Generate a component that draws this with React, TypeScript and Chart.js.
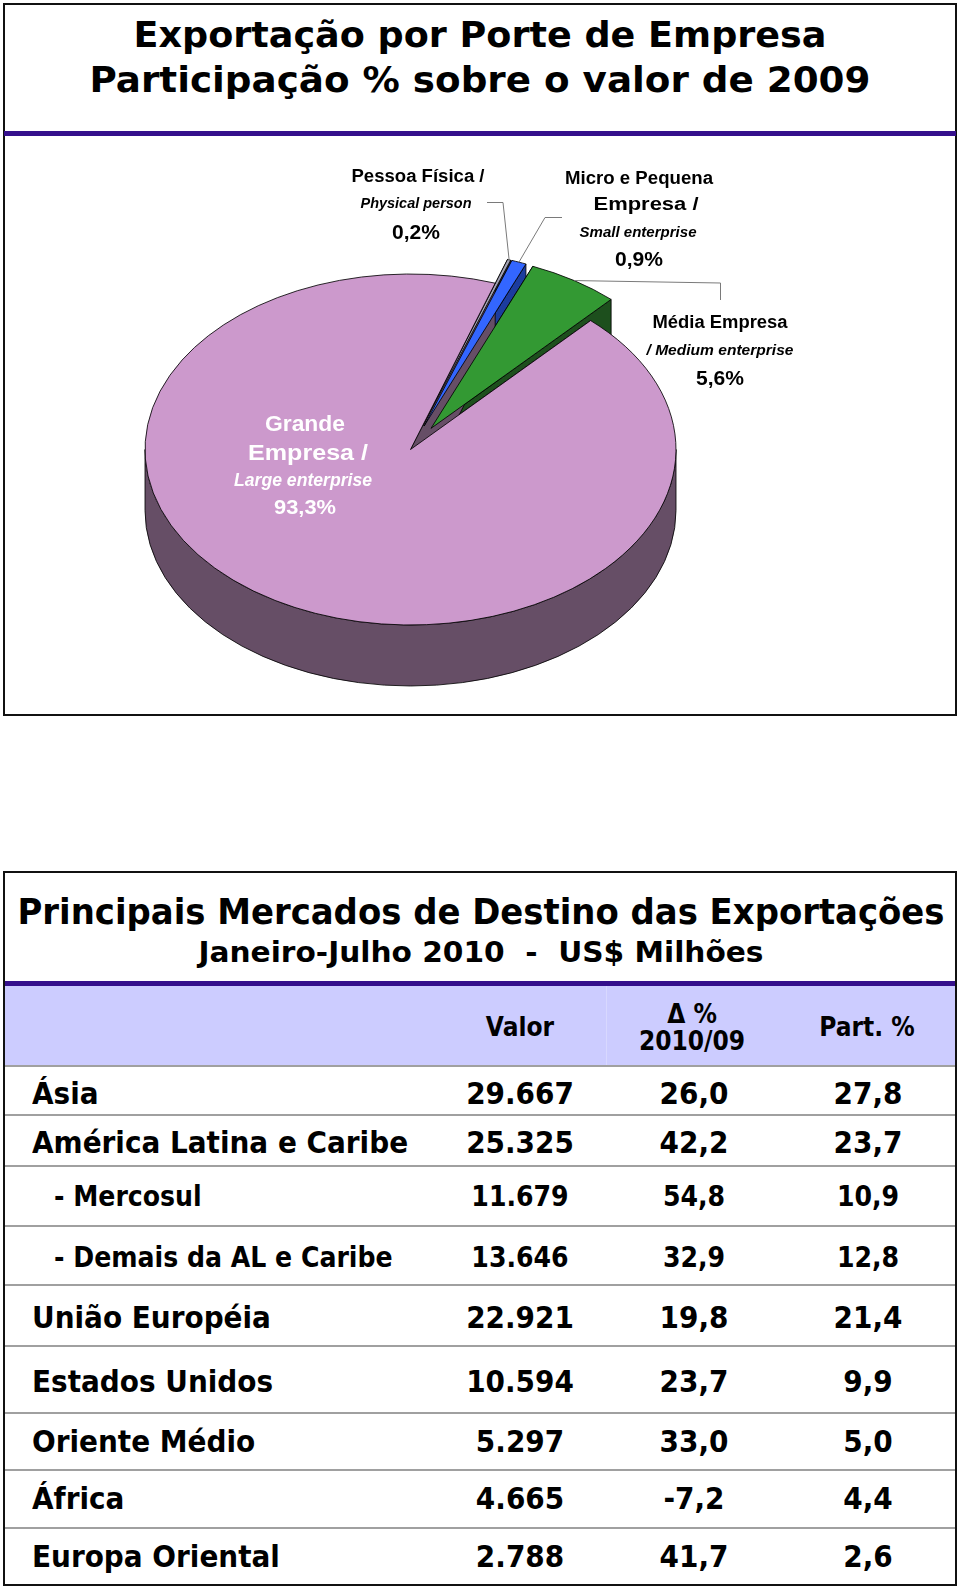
import React, { useEffect, useRef } from 'react';
import { Chart, registerables } from 'chart.js';

Chart.register(...registerables);

// ---------------- Pie data ----------------
const sliceNames = [
  'Pessoa Física / Physical person',
  'Micro e Pequena Empresa / Small enterprise',
  'Média Empresa / Medium enterprise',
  'Grande Empresa / Large enterprise',
];
const sliceShares = [0.2, 0.9, 5.6, 93.3];
const sliceColors = ['#A2A2B4', '#3366FF', '#339933', '#CC99CC'];
const sliceSideColors = ['#50505E', '#1C3C9E', '#1D4F1D', '#664E66'];
const sliceExplode = [38, 38, 38, 0];
const pieLabelLines = [
  ['Pessoa Física /', 'Physical person'],
  ['Micro e Pequena', 'Empresa /', 'Small enterprise'],
  ['Média Empresa', '/ Medium enterprise'],
  ['Grande', 'Empresa /', 'Large enterprise'],
];

// ---------------- Table data ----------------
const regions = [
  'Ásia',
  'América Latina e Caribe',
  '- Mercosul',
  '- Demais da AL e Caribe',
  'União Européia',
  'Estados Unidos',
  'Oriente Médio',
  'África',
  'Europa Oriental',
];
const regionIsSub = [false, false, true, true, false, false, false, false, false];
const exportValues = [29667, 25325, 11679, 13646, 22921, 10594, 5297, 4665, 2788];
const growthPct = [26.0, 42.2, 54.8, 32.9, 19.8, 23.7, 33.0, -7.2, 41.7];
const sharePct = [27.8, 23.7, 10.9, 12.8, 21.4, 9.9, 5.0, 4.4, 2.6];
const tableHeaders = ['Valor', 'Δ %', '2010/09', 'Part. %'];

// ---------------- helpers ----------------
const fmtThousands = (n: number) => String(n).replace(/\B(?=(\d{3})+(?!\d))/g, '.');
const fmtDec = (n: number) => n.toFixed(1).replace('.', ',');

const DV = "'DejaVu Sans', Verdana, sans-serif";
const LS = "'Liberation Sans', Arial, sans-serif";

let measureCtx: CanvasRenderingContext2D | null = null;
function fitScale(text: string, font: string, target: number) {
  if (!measureCtx) measureCtx = document.createElement('canvas').getContext('2d');
  if (!measureCtx) return 1;
  measureCtx.font = font;
  const w = measureCtx.measureText(text).width;
  return w > 0 ? target / w : 1;
}

type TxtProps = {
  text: string;
  x: number;
  base: number;
  size: number;
  family: string;
  bold?: boolean;
  italic?: boolean;
  align?: 'center' | 'left';
  width?: number;
  scale?: number;
  color?: string;
};

function Txt({ text, x, base, size, family, bold = true, italic = false, align = 'center', width, scale, color = '#000' }: TxtProps) {
  const font = `${italic ? 'italic ' : ''}${bold ? 'bold ' : ''}${size}px ${family}`;
  const s = width ? fitScale(text, font, width) : scale ?? 1;
  const top = base - 0.846 * size;
  const style: React.CSSProperties = {
    position: 'absolute',
    left: x,
    top,
    fontFamily: family,
    fontSize: size,
    fontWeight: bold ? 700 : 400,
    fontStyle: italic ? 'italic' : 'normal',
    lineHeight: `${size}px`,
    whiteSpace: 'pre',
    color,
    transformOrigin: align === 'center' ? '50% 50%' : '0 50%',
    transform: align === 'center' ? `translateX(-50%) scaleX(${s})` : `scaleX(${s})`,
  };
  return <div style={style}>{text}</div>;
}

// ---------------- 3D pie plugin ----------------
const K = 0.661; // vertical squash of the pie
const DEPTH = 61; // screen px thickness

const leaderPaths = [
  { slice: 0, pts: [[503, 202.5], [487, 202.5]] },
  { slice: 1, pts: [[545, 217.5], [562, 217.5]] },
  { slice: 2, pts: [[720.5, 283], [720.5, 300]] },
];

const pie3d = {
  id: 'pie3d',
  afterDatasetsUpdate(chart: any) {
    const arcs = chart.getDatasetMeta(0).data;
    arcs.forEach((arc: any, i: number) => {
      const e = sliceExplode[i];
      if (!e) return;
      const mid = (arc.startAngle + arc.endAngle) / 2;
      arc.x += Math.cos(mid) * e;
      arc.y += Math.sin(mid) * e;
    });
  },
  beforeDatasetsDraw(chart: any) {
    const ctx: CanvasRenderingContext2D = chart.ctx;
    const a = chart.chartArea;
    const cx = (a.left + a.right) / 2;
    const cy = (a.top + a.bottom) / 2;
    ctx.save();
    ctx.translate(cx, cy);
    ctx.scale(1, K);
    ctx.translate(-cx, -cy);
    const D = DEPTH / K;
    const arcs = chart.getDatasetMeta(0).data;
    ctx.lineWidth = 1;
    ctx.strokeStyle = '#000';
    ctx.lineJoin = 'round';
    // radial walls
    arcs.forEach((arc: any, i: number) => {
      const { x, y, startAngle, endAngle, outerRadius: R } = arc;
      [startAngle, endAngle].forEach((ang: number) => {
        const ox = x + Math.cos(ang) * R;
        const oy = y + Math.sin(ang) * R;
        ctx.beginPath();
        ctx.moveTo(x, y);
        ctx.lineTo(ox, oy);
        ctx.lineTo(ox, oy + D);
        ctx.lineTo(x, y + D);
        ctx.closePath();
        ctx.fillStyle = sliceSideColors[i];
        ctx.fill();
        ctx.stroke();
      });
    });
    // curved front walls
    arcs.forEach((arc: any, i: number) => {
      const { x, y, startAngle, endAngle, outerRadius: R } = arc;
      for (let n = -2; n <= 2; n++) {
        const lo = Math.max(startAngle, 2 * Math.PI * n);
        const hi = Math.min(endAngle, 2 * Math.PI * n + Math.PI);
        if (hi > lo) {
          ctx.beginPath();
          ctx.arc(x, y, R, lo, hi, false);
          ctx.lineTo(x + Math.cos(hi) * R, y + Math.sin(hi) * R + D);
          ctx.arc(x, y + D, R, hi, lo, true);
          ctx.closePath();
          ctx.fillStyle = sliceSideColors[i];
          ctx.fill();
          ctx.stroke();
        }
      }
    });
  },
  afterDatasetsDraw(chart: any) {
    chart.ctx.restore();
  },
  afterDraw(chart: any) {
    const ctx: CanvasRenderingContext2D = chart.ctx;
    const a = chart.chartArea;
    const cy = (a.top + a.bottom) / 2;
    const arcs = chart.getDatasetMeta(0).data;
    ctx.save();
    ctx.strokeStyle = '#7A7A7A';
    ctx.lineWidth = 1;
    leaderPaths.forEach(({ slice, pts }) => {
      const arc = arcs[slice];
      const mid = (arc.startAngle + arc.endAngle) / 2;
      const ax = arc.x + Math.cos(mid) * arc.outerRadius;
      const ayc = arc.y + Math.sin(mid) * arc.outerRadius;
      const ay = cy + (ayc - cy) * K;
      ctx.beginPath();
      ctx.moveTo(ax, ay);
      pts.forEach((p) => ctx.lineTo(p[0], p[1]));
      ctx.stroke();
    });
    ctx.restore();
  },
};

function PieChart() {
  const ref = useRef<HTMLCanvasElement | null>(null);
  useEffect(() => {
    if (!ref.current) return;
    const chart = new Chart(ref.current, {
      type: 'pie',
      data: {
        labels: sliceNames,
        datasets: [
          {
            data: sliceShares,
            backgroundColor: sliceColors,
            borderColor: '#000',
            borderWidth: 1,
            radius: 265.5,
            rotation: 18.6,
            clip: false,
          } as any,
        ],
      },
      options: {
        responsive: false,
        animation: false,
        events: [],
        layout: { padding: { left: 0, right: 139, top: 179, bottom: 0 } },
        plugins: { legend: { display: false }, tooltip: { enabled: false } },
      },
      plugins: [pie3d as any],
    });
    return () => chart.destroy();
  }, []);
  return (
    <canvas
      ref={ref}
      width={960}
      height={720}
      style={{ position: 'absolute', left: 0, top: 0, width: 960, height: 720 }}
    />
  );
}

// ---------------- layout constants ----------------
const rowLines = [1066, 1115, 1166, 1226, 1285, 1346, 1413, 1470, 1528];
const rowCenters = [1093, 1142, 1196, 1257, 1317, 1381, 1441, 1498, 1556];
const COL_VALOR = 520;
const COL_DELTA = 694;
const COL_PART = 868;
const TSCALE = 0.9;

export default function App() {
  const pct = sliceShares.map((v) => fmtDec(v) + '%');
  return (
    <div style={{ position: 'absolute', left: 0, top: 0, width: 960, height: 1589, background: '#fff', overflow: 'hidden' }}>
      {/* top box */}
      <div style={{ position: 'absolute', left: 3, top: 3, width: 954, height: 713, border: '2px solid #111', boxSizing: 'border-box' }} />
      <div style={{ position: 'absolute', left: 4, top: 131, width: 952, height: 5, background: '#35108C' }} />
      <Txt text="Exportação por Porte de Empresa" x={480} base={47} size={36} family={DV} width={693} />
      <Txt text="Participação % sobre o valor de 2009" x={480} base={92} size={36} family={DV} width={781} />

      <PieChart />

      {/* pie labels */}
      <Txt text={pieLabelLines[0][0]} x={417.5} base={182} size={18} family={LS} width={133} />
      <Txt text={pieLabelLines[0][1]} x={416} base={208} size={14} family={LS} italic width={111} />
      <Txt text={pct[0]} x={416} base={239} size={20} family={LS} width={48} />

      <Txt text={pieLabelLines[1][0]} x={639} base={184} size={18} family={LS} width={148} />
      <Txt text={pieLabelLines[1][1]} x={646} base={210} size={18} family={LS} width={105} />
      <Txt text={pieLabelLines[1][2]} x={638} base={237} size={14} family={LS} italic width={117} />
      <Txt text={pct[1]} x={639} base={266} size={20} family={LS} width={48} />

      <Txt text={pieLabelLines[2][0]} x={719.5} base={328} size={18} family={LS} width={135} />
      <Txt text={pieLabelLines[2][1]} x={719.5} base={355} size={14} family={LS} italic width={147} />
      <Txt text={pct[2]} x={720} base={385} size={20} family={LS} width={48} />

      <Txt text={pieLabelLines[3][0]} x={305} base={432} size={22} family={LS} width={80} color="#fff" />
      <Txt text={pieLabelLines[3][1]} x={308} base={461} size={22} family={LS} width={120} color="#fff" />
      <Txt text={pieLabelLines[3][2]} x={303} base={486} size={18} family={LS} italic width={138} color="#fff" />
      <Txt text={pct[3]} x={305} base={514} size={21} family={LS} width={62} color="#fff" />

      {/* table box */}
      <div style={{ position: 'absolute', left: 3, top: 871, width: 954, height: 715, border: '2px solid #111', boxSizing: 'border-box' }} />
      <Txt text="Principais Mercados de Destino das Exportações" x={481} base={925} size={35} family={DV} width={927} />
      <Txt text="Janeiro-Julho 2010  -  US$ Milhões" x={481} base={963} size={29} family={DV} width={565} />
      <div style={{ position: 'absolute', left: 5, top: 981, width: 950, height: 5, background: '#35108C' }} />
      <div style={{ position: 'absolute', left: 5, top: 986, width: 950, height: 80, background: '#CCCCFF' }} />
      <div style={{ position: 'absolute', left: 606, top: 986, width: 1, height: 80, background: '#D8D8FF' }} />

      <Txt text={tableHeaders[0]} x={COL_VALOR} base={1036} size={26} family={DV} scale={TSCALE} />
      <Txt text={tableHeaders[1]} x={692} base={1023} size={26} family={DV} scale={TSCALE} />
      <Txt text={tableHeaders[2]} x={692} base={1050} size={26} family={DV} scale={TSCALE} />
      <Txt text={tableHeaders[3]} x={867} base={1036} size={26} family={DV} scale={TSCALE} />

      {rowLines.map((y, i) => (
        <div key={'l' + i} style={{ position: 'absolute', left: 5, top: y - 1, width: 950, height: 2, background: '#A0A0A0' }} />
      ))}

      {regions.map((r, i) => {
        const sub = regionIsSub[i];
        const size = sub ? 28 : 31;
        const base = rowCenters[i] + (0.729 * size) / 2;
        return (
          <React.Fragment key={'r' + i}>
            <Txt text={r} x={sub ? 54 : 32} base={base} size={size} family={DV} align="left" scale={TSCALE} />
            <Txt text={fmtThousands(exportValues[i])} x={COL_VALOR} base={base} size={size} family={DV} scale={TSCALE} />
            <Txt text={fmtDec(growthPct[i])} x={COL_DELTA} base={base} size={size} family={DV} scale={TSCALE} />
            <Txt text={fmtDec(sharePct[i])} x={COL_PART} base={base} size={size} family={DV} scale={TSCALE} />
          </React.Fragment>
        );
      })}
    </div>
  );
}
